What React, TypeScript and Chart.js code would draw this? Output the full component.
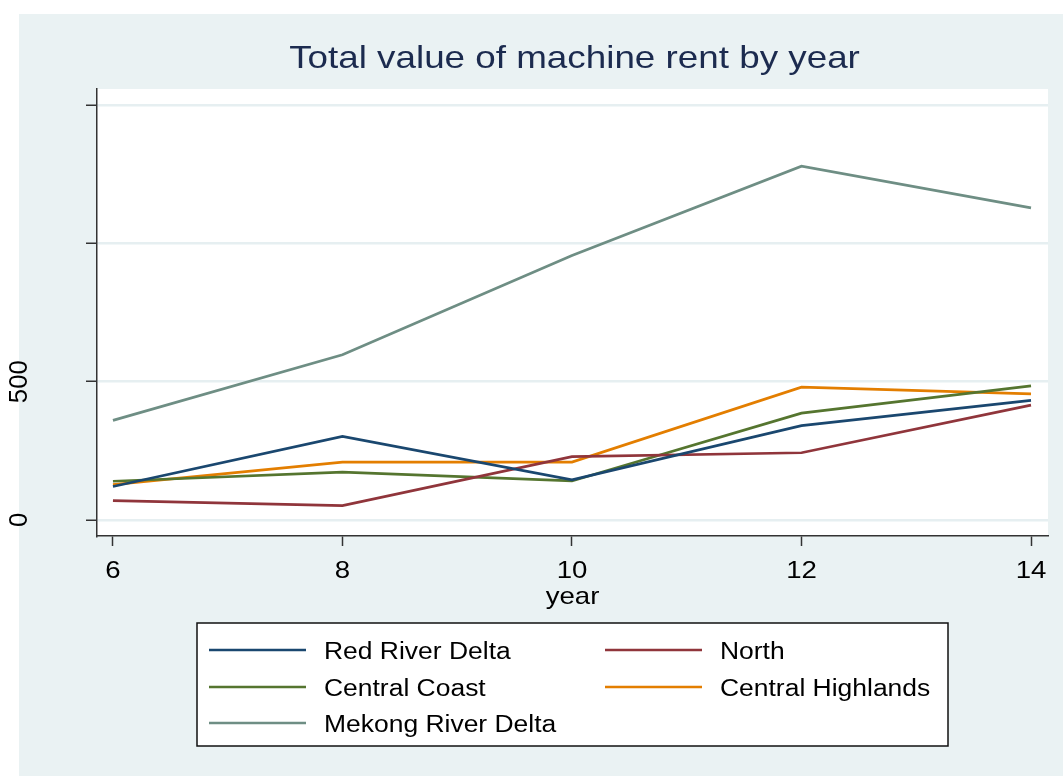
import React, { useEffect, useRef } from "react";
import { Chart, registerables } from "chart.js";

Chart.register(...registerables);

const years = [6, 8, 10, 12, 14];
const redRiverDelta = [121, 302, 145, 341, 432];
const north = [70, 52, 229, 243, 415];
const centralCoast = [140, 173, 141, 386, 485];
const centralHighlands = [128, 209, 209, 480, 456];
const mekongRiverDelta = [360, 597, 956, 1279, 1128];

const seriesNames = ["Red River Delta", "North", "Central Coast", "Central Highlands", "Mekong River Delta"];
const seriesValues = [redRiverDelta, north, centralCoast, centralHighlands, mekongRiverDelta];
const seriesColors = ["#1a476f", "#90353b", "#55752f", "#e37e00", "#6e8e84"];

const xTicks = [6, 8, 10, 12, 14];
const yTicks = [0, 500, 1000, 1500];
const yTickLabels = ["0", "500", "", ""];

const titleText = "Total value of machine rent by year";
const xTitle = "year";

const FONT = "'Liberation Sans', Arial, Helvetica, sans-serif";
const SX = 1.15;
const BG = "#eaf2f3";

function drawText(ctx: CanvasRenderingContext2D, text: string, x: number, y: number, size: number, color: string, align: CanvasTextAlign, rot = 0, sx = SX) {
  ctx.save();
  ctx.translate(x, y);
  if (rot) ctx.rotate(rot);
  ctx.scale(sx, 1);
  ctx.font = `${size}px ${FONT}`;
  ctx.fillStyle = color;
  ctx.textAlign = align;
  ctx.textBaseline = "alphabetic";
  ctx.fillText(text, 0, 0);
  ctx.restore();
}

const decorPlugin = {
  id: "decor",
  beforeDraw(chart: any) {
    const ctx = chart.ctx as CanvasRenderingContext2D;
    const { width, height, chartArea } = chart;
    ctx.save();
    ctx.fillStyle = "#ffffff";
    ctx.fillRect(0, 0, width, height);
    ctx.fillStyle = BG;
    ctx.fillRect(19, 14, width - 19, height - 14);
    ctx.fillStyle = "#ffffff";
    ctx.fillRect(chartArea.left, chartArea.top, chartArea.right - chartArea.left, chartArea.bottom - chartArea.top);
    ctx.restore();
  },
  afterDraw(chart: any) {
    const ctx = chart.ctx as CanvasRenderingContext2D;
    const { chartArea } = chart;
    const xs = chart.scales.x;
    const ys = chart.scales.y;
    const cx = (chartArea.left + chartArea.right) / 2;

    // title
    drawText(ctx, titleText, cx + 2, 68, 32, "#1c2b4f", "center");

    // x tick labels
    xTicks.forEach((v) => {
      drawText(ctx, String(v), xs.getPixelForValue(v), 578, 24, "#000000", "center");
    });
    drawText(ctx, xTitle, cx, 604, 24, "#000000", "center");

    // y tick labels (rotated)
    yTicks.forEach((v, i) => {
      const lab = yTickLabels[i];
      if (!lab) return;
      drawText(ctx, lab, 27, ys.getPixelForValue(v), 25, "#000000", "center", -Math.PI / 2, 1.03);
    });

    // legend
    const bx = 197, by = 623, bw = 751, bh = 123;
    ctx.save();
    ctx.fillStyle = "#ffffff";
    ctx.fillRect(bx, by, bw, bh);
    ctx.strokeStyle = "#111111";
    ctx.lineWidth = 1.5;
    ctx.strokeRect(bx, by, bw, bh);
    ctx.restore();
    const rowsY = [650, 687, 723];
    const colLine = [209, 605];
    const colText = [324, 720];
    chart.data.datasets.forEach((ds: any, i: number) => {
      const r = Math.floor(i / 2);
      const c = i % 2;
      const y = rowsY[r];
      ctx.save();
      ctx.strokeStyle = ds.borderColor;
      ctx.lineWidth = 2.5;
      ctx.beginPath();
      ctx.moveTo(colLine[c], y);
      ctx.lineTo(colLine[c] + 97, y);
      ctx.stroke();
      ctx.restore();
      drawText(ctx, ds.label, colText[c], y + 8.5, 23, "#000000", "left");
    });
  },
};

export default function App() {
  const ref = useRef<HTMLCanvasElement | null>(null);
  useEffect(() => {
    if (!ref.current) return;
    const chart = new Chart(ref.current, {
      type: "line",
      data: {
        datasets: seriesNames.map((name, i) => ({
          label: name,
          data: years.map((x, j) => ({ x, y: seriesValues[i][j] })),
          borderColor: seriesColors[i],
          backgroundColor: seriesColors[i],
          borderWidth: 2.7,
          pointRadius: 0,
          tension: 0,
          fill: false,
        })),
      },
      options: {
        responsive: false,
        animation: false,
        devicePixelRatio: 1,
        layout: { padding: { top: 89, right: 15, bottom: 160, left: 0 } },
        plugins: {
          legend: { display: false },
          title: { display: false },
          tooltip: { enabled: false },
        },
        scales: {
          x: {
            type: "linear",
            min: 5.861,
            max: 14.148,
            afterBuildTicks: (s: any) => {
              s.ticks = xTicks.map((v) => ({ value: v }));
            },
            afterFit: (s: any) => {
              s.height = 80;
            },
            ticks: { display: false },
            grid: {
              drawOnChartArea: false,
              drawTicks: true,
              tickLength: 10,
              tickColor: "#333333",
              tickWidth: 1.5,
            },
            border: { display: true, color: "#333333", width: 1.5 },
          },
          y: {
            type: "linear",
            min: -58,
            max: 1558,
            afterBuildTicks: (s: any) => {
              s.ticks = yTicks.map((v) => ({ value: v }));
            },
            afterFit: (s: any) => {
              s.width = 97;
            },
            ticks: { display: false },
            grid: {
              color: "#e6eff1",
              lineWidth: 2.5,
              drawTicks: true,
              tickLength: 11,
              tickColor: "#333333",
              tickWidth: 1.5,
            },
            border: { display: true, color: "#333333", width: 1.5 },
          },
        },
      },
      plugins: [decorPlugin],
    });
    return () => chart.destroy();
  }, []);
  return (
    <canvas
      ref={ref}
      width={1063}
      height={776}
      style={{ position: "fixed", left: 0, top: 0, width: 1063, height: 776, display: "block" }}
    />
  );
}
